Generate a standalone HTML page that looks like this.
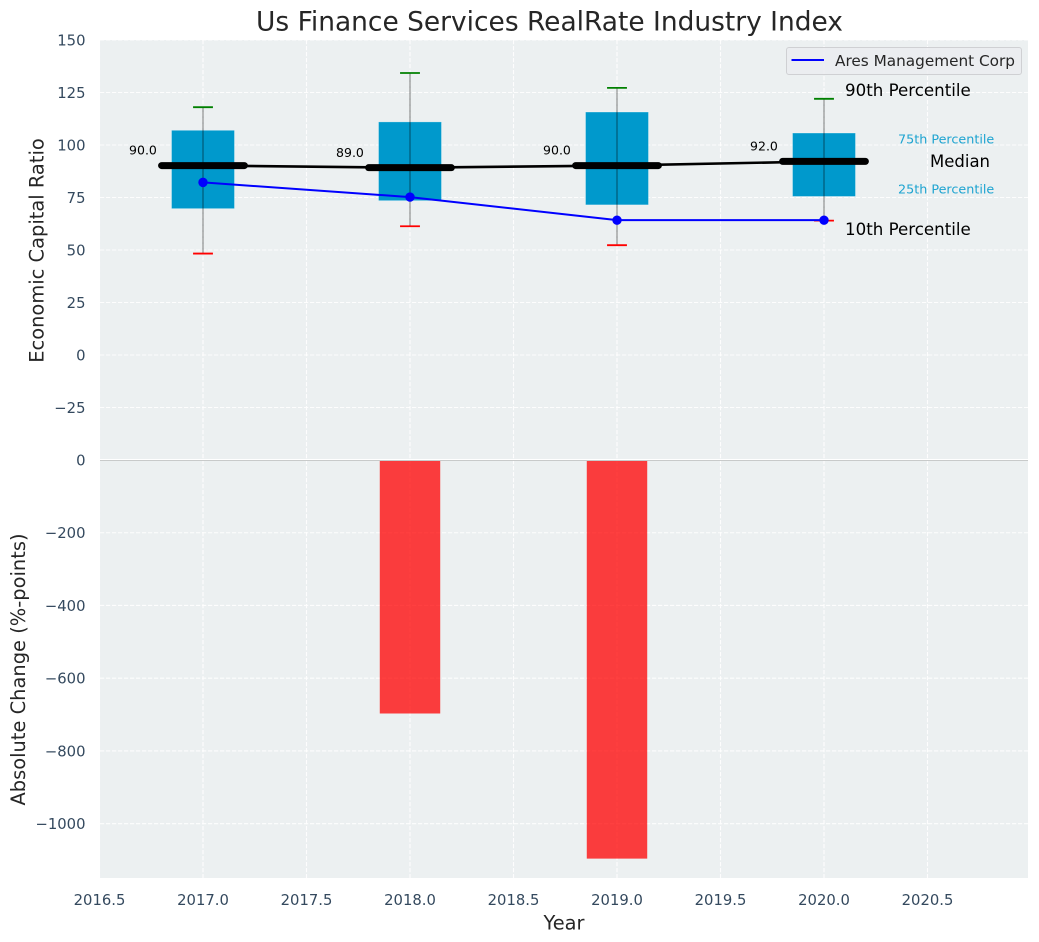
<!DOCTYPE html>
<html>
<head>
<meta charset="utf-8">
<title>Us Finance Services RealRate Industry Index</title>
<style>
html,body{margin:0;padding:0;background:#fff;width:1039px;height:942px;overflow:hidden}
svg{display:block;font-family:"DejaVu Sans","Liberation Sans",sans-serif}
</style>
</head>
<body>
<svg id="chart" xmlns="http://www.w3.org/2000/svg" width="1039" height="942" viewBox="0 0 1039 942"></svg>
<script>
const years = [2017, 2018, 2019, 2020];
const p90 = [118, 134.3, 127.2, 122];
const p75 = [107, 111, 115.7, 105.7];
const medians = [90, 89, 90, 92];
const p25 = [69.7, 73.5, 71.5, 75.5];
const p10 = [48.3, 61.3, 52.3, 64];
const company = [82, 75, 64, 64];
const changes = [0, -697, -1096, 0];
const xTicks = [2016.5, 2017, 2017.5, 2018, 2018.5, 2019, 2019.5, 2020, 2020.5];
const xTickLabels = ['2016.5', '2017.0', '2017.5', '2018.0', '2018.5', '2019.0', '2019.5', '2020.0', '2020.5'];
const topTicks = [150, 125, 100, 75, 50, 25, 0, -25];
const topTickLabels = ['150', '125', '100', '75', '50', '25', '0', '\u221225'];
const bottomTicks = [-200, -400, -600, -800, -1000];
const bottomTickLabels = ['\u2212200', '\u2212400', '\u2212600', '\u2212800', '\u22121000'];

const svgNS = 'http://www.w3.org/2000/svg';
const chart = document.getElementById('chart');
const plotLeft = 100, plotRight = 1028;
const topY0 = 40, topY1 = 460, botY0 = 460, botY1 = 878;

function xScale(v) { return 203 + (v - 2017) * 207; }
function yTop(v) { return 355 - v * 2.1; }
function yBottom(v) { return 460 - v * 0.3637; }

function make(tag, attrs, text) {
  const el = document.createElementNS(svgNS, tag);
  for (const k in attrs) el.setAttribute(k, attrs[k]);
  if (text !== undefined) el.textContent = text;
  chart.appendChild(el);
  return el;
}
let el;

el = make('rect', {x: plotLeft, y: topY0, width: plotRight - plotLeft, height: topY1 - topY0, fill: '#ecf0f1'});


el = make('rect', {x: plotLeft, y: botY0, width: plotRight - plotLeft, height: botY1 - botY0, fill: '#ecf0f1'});



const gridStyle = {stroke: '#ffffff', 'stroke-width': 1.1, 'stroke-dasharray': '4.2 1.8', opacity: 0.9};
xTicks.forEach(function (t, i) {
  el = make('line', Object.assign({x1: xScale(t), x2: xScale(t), y1: topY0, y2: topY1}, gridStyle));
  
  
  el = make('line', Object.assign({x1: xScale(t), x2: xScale(t), y1: botY0, y2: botY1}, gridStyle));
  
  
  el = make('text', {x: xScale(t), y: 905, 'text-anchor': 'middle', 'font-size': 14.8, fill: '#34495e'}, xTickLabels[i]);
  
  
});
topTicks.forEach(function (t, i) {
  el = make('line', Object.assign({x1: plotLeft, x2: plotRight, y1: yTop(t), y2: yTop(t)}, gridStyle));
  
  
  el = make('text', {x: 85.5, y: yTop(t) + 5.5, 'text-anchor': 'end', 'font-size': 14.8, fill: '#34495e'}, topTickLabels[i]);
  
  
});
el = make('text', {x: 85.5, y: yBottom(0) + 5.5, 'text-anchor': 'end', 'font-size': 14.8, fill: '#34495e'}, '0');


bottomTicks.forEach(function (t, i) {
  el = make('line', Object.assign({x1: plotLeft, x2: plotRight, y1: yBottom(t), y2: yBottom(t)}, gridStyle));
  
  
  el = make('text', {x: 85.5, y: yBottom(t) + 5.5, 'text-anchor': 'end', 'font-size': 14.8, fill: '#34495e'}, bottomTickLabels[i]);
  
  
});

// absolute change bars
years.forEach(function (y, i) {
  if (changes[i] === 0) return;
  el = make('rect', {x: xScale(y - 0.146), width: xScale(y + 0.146) - xScale(y - 0.146), y: yBottom(0), height: yBottom(changes[i]) - yBottom(0), fill: '#ff0000', 'fill-opacity': 0.75});
  
  
});

el = make('line', {x1: plotLeft, x2: plotRight, y1: 459.5, y2: 459.5, stroke: '#ffffff', 'stroke-width': 1});


el = make('line', {x1: plotLeft, x2: plotRight, y1: 460.5, y2: 460.5, stroke: '#c8caca', 'stroke-width': 1});



// percentile boxes
years.forEach(function (y, i) {
  el = make('rect', {x: xScale(y - 0.152), width: xScale(y + 0.152) - xScale(y - 0.152), y: yTop(p75[i]), height: yTop(p25[i]) - yTop(p75[i]), fill: '#0099cc', stroke: '#ffffff', 'stroke-opacity': 0.35, 'stroke-width': 0.8});
  
  
});

// whiskers and caps
years.forEach(function (y, i) {
  el = make('line', {x1: xScale(y), x2: xScale(y), y1: yTop(p90[i]), y2: yTop(p10[i]), stroke: '#000000', 'stroke-opacity': 0.42, 'stroke-width': 1.2});
  
  
  el = make('line', {x1: xScale(y - 0.048), x2: xScale(y + 0.048), y1: yTop(p90[i]), y2: yTop(p90[i]), stroke: '#008000', 'stroke-width': 1.8});
  
  
  el = make('line', {x1: xScale(y - 0.048), x2: xScale(y + 0.048), y1: yTop(p10[i]), y2: yTop(p10[i]), stroke: '#ff0000', 'stroke-width': 1.8});
  
  
});

// median connector
el = make('polyline', {points: years.map(function (y, i) { return xScale(y) + ',' + yTop(medians[i] + 0.2); }).join(' '), fill: 'none', stroke: '#000000', 'stroke-width': 2.6});



// median bars and value labels
years.forEach(function (y, i) {
  el = make('line', {x1: xScale(y - 0.2), x2: xScale(y + 0.2), y1: yTop(medians[i] + 0.2), y2: yTop(medians[i] + 0.2), stroke: '#000000', 'stroke-width': 7, 'stroke-linecap': 'round'});
  
  
  el = make('text', {x: xScale(y - 0.29), y: yTop(medians[i]) - 11.3, 'text-anchor': 'middle', 'font-size': 12.5, fill: '#000000'}, medians[i].toFixed(1));
  
  
});

// company series
el = make('polyline', {points: years.map(function (y, i) { return xScale(y) + ',' + yTop(company[i] + 0.2); }).join(' '), fill: 'none', stroke: '#0000ff', 'stroke-width': 2});


years.forEach(function (y, i) {
  el = make('circle', {cx: xScale(y), cy: yTop(company[i] + 0.2), r: 4.7, fill: '#0000ff'});
  
  
});

// percentile annotations
el = make('text', {x: 845, y: 96, 'font-size': 16.67, fill: '#000000'}, '90th Percentile');


el = make('text', {x: 845, y: 235, 'font-size': 16.67, fill: '#000000'}, '10th Percentile');


el = make('text', {x: 930, y: 167, 'font-size': 16.5, fill: '#000000'}, 'Median');


el = make('text', {x: 898, y: 143.5, 'font-size': 12.75, fill: '#0099cc', 'fill-opacity': 0.88}, '75th Percentile');


el = make('text', {x: 898, y: 193.5, 'font-size': 12.75, fill: '#0099cc', 'fill-opacity': 0.88}, '25th Percentile');



// legend
el = make('rect', {x: 786.5, y: 47.5, width: 235, height: 27, rx: 2.5, fill: '#ebecf0', 'fill-opacity': 0.85, stroke: '#cfd0d3', 'stroke-width': 1});


el = make('line', {x1: 791.5, x2: 824, y1: 60, y2: 60, stroke: '#0000ff', 'stroke-width': 2});


el = make('text', {x: 835, y: 66, 'font-size': 15.28, fill: '#262626'}, 'Ares Management Corp');



// titles
el = make('text', {x: 549.5, y: 30.5, 'text-anchor': 'middle', 'font-size': 26.45, fill: '#262626'}, 'Us Finance Services RealRate Industry Index');


el = make('text', {x: 564, y: 929.3, 'text-anchor': 'middle', 'font-size': 19.4, fill: '#262626'}, 'Year');


el = make('text', {x: 0, y: 0, transform: 'translate(43.5,250.5) rotate(-90)', 'text-anchor': 'middle', 'font-size': 19.45, fill: '#262626'}, 'Economic Capital Ratio');


el = make('text', {x: 0, y: 0, transform: 'translate(25,669.5) rotate(-90)', 'text-anchor': 'middle', 'font-size': 19.45, fill: '#262626'}, 'Absolute Change (%-points)');


</script>
</body>
</html>
